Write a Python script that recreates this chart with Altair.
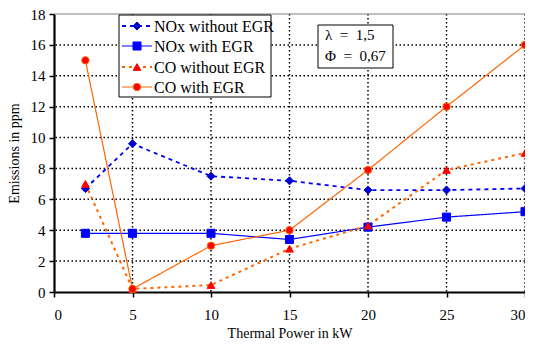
import altair as alt
import pandas as pd

# ---- data ----
power = [2, 5, 10, 15, 20, 25, 30]
nox_without = [6.7, 9.6, 7.5, 7.2, 6.6, 6.6, 6.7]
nox_with = [3.8, 3.8, 3.8, 3.4, 4.2, 4.85, 5.2]
co_without = [7.0, 0.2, 0.45, 2.8, 4.3, 7.9, 9.0]
co_with = [15.0, 0.2, 3.0, 4.0, 7.9, 12.0, 16.0]
series_names = ["NOx without EGR", "NOx with EGR", "CO without EGR", "CO with EGR"]
x_ticks = [0, 5, 10, 15, 20, 25, 30]
y_ticks = [0, 2, 4, 6, 8, 10, 12, 14, 16, 18]
x_grid = [5, 10, 15, 20, 25, 30]
y_grid = [2, 4, 6, 8, 10, 12, 14, 16]
param_lines = ["λ\u00a0\u00a0=\u00a0\u00a01,5", "Φ\u00a0\u00a0=\u00a0\u00a00,67"]

W, H = 471, 278
FONT = "Liberation Serif"

values = [nox_without, nox_with, co_without, co_with]
rows = []
for name, vals in zip(series_names, values):
    for p, v in zip(power, vals):
        rows.append({"series": name, "power": p, "value": v})
df = pd.DataFrame(rows)

styles = {
    "NOx without EGR": dict(line="#0000FF", dash=[4, 4], lw=1.8, shape="diamond",
                            fill="#0000CC", stroke="#0000CC", size=65),
    "NOx with EGR": dict(line="#0000FF", dash=[1, 0], lw=1.2, shape="square",
                         fill="#0000FF", stroke="#0000FF", size=65),
    "CO without EGR": dict(line="#FF6600", dash=[3, 4], lw=2.0, shape="triangle-up",
                           fill="#FF0000", stroke="#FF0000", size=60),
    "CO with EGR": dict(line="#FF6600", dash=[1, 0], lw=1.2, shape="circle",
                        fill="#FF0000", stroke="#FF6600", size=55),
}

xscale = alt.Scale(domain=[0, 30], nice=False)
yscale = alt.Scale(domain=[0, 18], nice=False)

axis_common = dict(
    grid=False, domainColor="black", domainWidth=2.2, tickColor="black",
    tickWidth=1.5, tickSize=5, labelFont=FONT, labelFontSize=15,
    labelColor="black", titleFont=FONT, titleFontSize=14,
    titleFontWeight="normal", titleColor="black",
)
xaxis = alt.Axis(values=x_ticks, title="Thermal Power in kW",
                 labelPadding=10, titlePadding=4, **axis_common)
yaxis = alt.Axis(values=y_ticks, title="Emissions in ppm",
                 labelPadding=4, titlePadding=9, **axis_common)


def X(field):
    return alt.X(field, scale=xscale, axis=xaxis)


def Y(field):
    return alt.Y(field, scale=yscale, axis=yaxis)


# grid lines
gx = alt.Chart(pd.DataFrame({"g": x_grid})).mark_rule(
    color="black", strokeDash=[1.5, 2.5], strokeWidth=1.5
).encode(x=X("g:Q"))
gy = alt.Chart(pd.DataFrame({"g": y_grid})).mark_rule(
    color="black", strokeDash=[1.5, 2.5], strokeWidth=1.5
).encode(y=Y("g:Q"))
top = alt.Chart(pd.DataFrame({"g": [18]})).mark_rule(
    color="#808080", strokeWidth=1
).encode(y=Y("g:Q"))

layers = [gx, gy, top]

for name in series_names:
    s = styles[name]
    base = alt.Chart(df).transform_filter(alt.datum.series == name)
    layers.append(base.mark_line(color=s["line"], strokeDash=s["dash"],
                                 strokeWidth=s["lw"]).encode(
        x=X("power:Q"), y=Y("value:Q")))
for name in series_names:
    s = styles[name]
    base = alt.Chart(df).transform_filter(alt.datum.series == name)
    layers.append(base.mark_point(shape=s["shape"], filled=True, fill=s["fill"],
                                  stroke=s["stroke"], strokeWidth=1,
                                  size=s["size"], opacity=1).encode(
        x=X("power:Q"), y=Y("value:Q")))

one = pd.DataFrame({"a": [0]})

# legend box
layers.append(alt.Chart(one).mark_rect(fill="white", stroke="black", strokeWidth=1).encode(
    x=alt.value(65), x2=alt.value(217), y=alt.value(1), y2=alt.value(83)))
leg_y = [12, 32, 53, 73]
for name, yy in zip(series_names, leg_y):
    s = styles[name]
    layers.append(alt.Chart(one).mark_rule(color=s["line"], strokeDash=s["dash"],
                                           strokeWidth=s["lw"]).encode(
        x=alt.value(68), x2=alt.value(98), y=alt.value(yy)))
    layers.append(alt.Chart(one).mark_point(shape=s["shape"], filled=True, fill=s["fill"],
                                            stroke=s["stroke"], strokeWidth=1,
                                            size=s["size"], opacity=1).encode(
        x=alt.value(83), y=alt.value(yy)))
    layers.append(alt.Chart(pd.DataFrame({"t": [name]})).mark_text(
        font=FONT, fontSize=16, color="black", align="left", baseline="middle").encode(
        x=alt.value(100), y=alt.value(yy + 1), text="t:N"))

# parameter box
layers.append(alt.Chart(one).mark_rect(fill="white", stroke="black", strokeWidth=1).encode(
    x=alt.value(264), x2=alt.value(339), y=alt.value(11), y2=alt.value(54)))
for txt, yy in zip(param_lines, [21, 42]):
    layers.append(alt.Chart(pd.DataFrame({"t": [txt]})).mark_text(
        font=FONT, fontSize=15, color="black", align="left", baseline="middle").encode(
        x=alt.value(271), y=alt.value(yy), text="t:N"))

chart = alt.layer(*layers).properties(
    width=W, height=H,
    autosize=alt.AutoSizeParams(type="none"),
    padding={"left": 46, "top": 6, "right": 0, "bottom": 49},
).configure_view(stroke=None)

chart.save("out.html", embed_options={"renderer": "svg", "actions": False})
